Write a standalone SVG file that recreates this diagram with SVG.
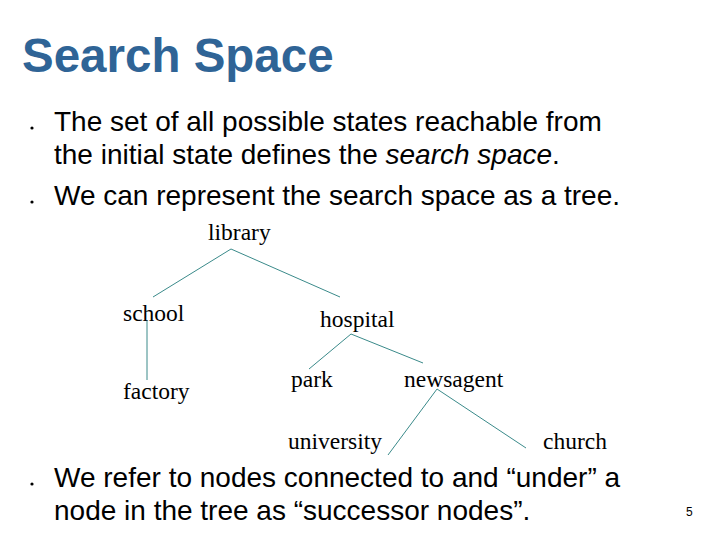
<svg xmlns="http://www.w3.org/2000/svg" width="720" height="540" viewBox="0 0 720 540">
<style>
.t{font-family:"Liberation Sans",Arial,sans-serif;font-size:28px;fill:#000}
.n{font-family:"Liberation Serif","Times New Roman",serif;font-size:23.5px;fill:#000}
.e{stroke:#3a8a8a;stroke-width:1;fill:none}
</style>
<rect width="720" height="540" fill="#fff"/>
<text x="22" y="72" font-family="Liberation Sans,Arial,sans-serif" font-size="47.5" font-weight="bold" fill="#2f6496">Search Space</text>
<circle cx="32" cy="128" r="1.6"/>
<text class="t" x="54" y="131">The set of all possible states reachable from</text>
<text class="t" x="54" y="164">the initial state defines the <tspan font-style="italic">search space</tspan>.</text>
<circle cx="32" cy="202" r="1.6"/>
<text class="t" x="54" y="205">We can represent the search space as a tree.</text>
<g id="connectors">
<line class="e" x1="231" y1="249" x2="153" y2="297"/>
<line class="e" x1="231" y1="249" x2="340" y2="297"/>
<line class="e" x1="147" y1="320" x2="147" y2="380"/>
<line class="e" x1="351" y1="334" x2="309" y2="369"/>
<line class="e" x1="351" y1="334" x2="423" y2="363"/>
<line class="e" x1="437" y1="389" x2="388" y2="455"/>
<line class="e" x1="437" y1="389" x2="526" y2="448"/>
</g>
<g id="library"><text class="n" x="208" y="240">library</text></g>
<g id="school"><text class="n" x="123" y="321">school</text></g>
<g id="hospital"><text class="n" x="320" y="327">hospital</text></g>
<g id="factory"><text class="n" x="123" y="399">factory</text></g>
<g id="park"><text class="n" x="291" y="387">park</text></g>
<g id="newsagent"><text class="n" x="404" y="387">newsagent</text></g>
<g id="university"><text class="n" x="288" y="449">university</text></g>
<g id="church"><text class="n" x="543" y="449">church</text></g>
<circle cx="32" cy="484" r="1.6"/>
<text class="t" x="54" y="487">We refer to nodes connected to and “under” a</text>
<text class="t" x="54" y="520">node in the tree as “successor nodes”.</text>
<text x="686" y="516" font-family="Liberation Sans,Arial,sans-serif" font-size="12">5</text>
</svg>
